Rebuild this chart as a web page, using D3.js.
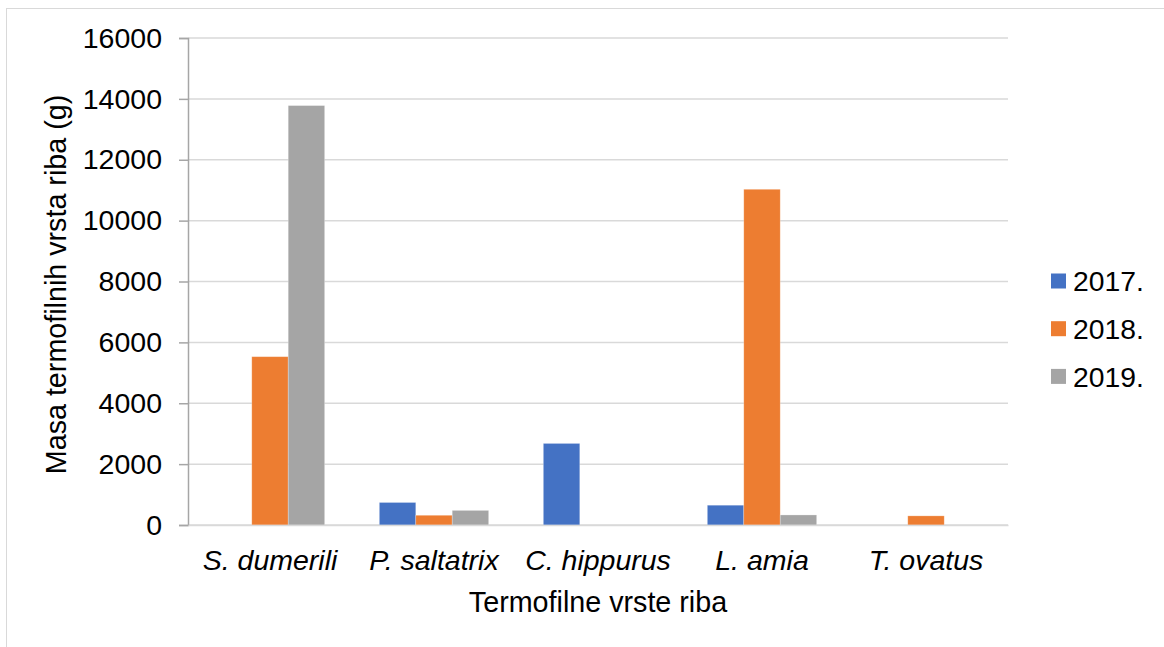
<!DOCTYPE html>
<html>
<head>
<meta charset="utf-8">
<script src="https://cdn.jsdelivr.net/npm/d3@7"></script>
<style>
  html, body { margin: 0; padding: 0; background: #fff; }
  svg { display: block; font-family: "Liberation Sans", Arial, sans-serif; }
</style>
</head>
<body>
<svg id="chart" width="1164" height="647"></svg>
<script>
const categories = ["S. dumerili", "P. saltatrix", "C. hippurus", "L. amia", "T. ovatus"];
const seriesNames = ["2017.", "2018.", "2019."];
const values2017 = [0, 740, 2680, 650, 0];
const values2018 = [5530, 320, 0, 11030, 300];
const values2019 = [13780, 480, 0, 330, 0];
const yTicks = [0, 2000, 4000, 6000, 8000, 10000, 12000, 14000, 16000];
const colors = ["#4472C4", "#ED7D31", "#A5A5A5"];

const seriesValues = [values2017, values2018, values2019];

const svg = d3.select("#chart");
const margin = { left: 188, right: 1008, top: 38, bottom: 525 };
const FONT = "Liberation Sans, Arial, sans-serif";

// outer frame
svg.append("rect")
  .attr("x", 6.5).attr("y", 8.5)
  .attr("width", 1300).attr("height", 800)
  .attr("fill", "none").attr("stroke", "#d9d9d9").attr("stroke-width", 1);

const y = d3.scaleLinear().domain([0, 16000]).range([margin.bottom, margin.top]);
const x0 = d3.scaleBand().domain(categories).range([margin.left, margin.right])
  .paddingInner(1/3).paddingOuter(1/6);
const x1 = d3.scaleBand().domain(seriesNames).range([0, x0.bandwidth()]);

// gridlines
svg.append("g").selectAll("line").data(yTicks).join("line")
  .attr("x1", margin.left).attr("x2", margin.right)
  .attr("y1", d => y(d)).attr("y2", d => y(d))
  .attr("stroke", "#d9d9d9").attr("stroke-width", 1.5);

// y axis
const yAxis = d3.axisLeft(y).tickValues(yTicks).tickSize(9).tickPadding(17).tickFormat(d3.format("d"));
const gy = svg.append("g").attr("transform", `translate(${margin.left},0)`).call(yAxis);
gy.select(".domain").attr("stroke", "#a6a6a6").attr("stroke-width", 1.5);
gy.selectAll(".tick line").attr("stroke", "#a6a6a6").attr("stroke-width", 1.5);
gy.selectAll(".tick text").attr("font-size", 28.5).attr("fill", "#000").attr("font-family", FONT);

// bars
const rows = categories.map((c, i) => ({ cat: c, vals: seriesNames.map((s, j) => ({ s, v: seriesValues[j][i], j })) }));
const groups = svg.append("g").selectAll("g").data(rows).join("g")
  .attr("transform", d => `translate(${x0(d.cat)},0)`);
groups.selectAll("rect").data(d => d.vals.filter(e => e.v > 0)).join("rect")
  .attr("x", d => x1(d.s))
  .attr("width", x1.bandwidth())
  .attr("y", d => y(d.v))
  .attr("height", d => y(0) - y(d.v))
  .attr("fill", d => colors[d.j])
  .attr("stroke", "#ffffff").attr("stroke-opacity", 0.35).attr("stroke-width", 0.75);

// x axis
const xAxis = d3.axisBottom(x0).tickSize(0).tickPadding(25);
const gx = svg.append("g").attr("transform", `translate(0,${margin.bottom})`).call(xAxis);
gx.select(".domain").attr("stroke", "#d9d9d9").attr("stroke-width", 1.5);
gx.selectAll(".tick text").attr("font-size", 28.5).attr("font-style", "italic").attr("fill", "#000")
  .attr("font-family", FONT);

// axis titles
svg.append("text")
  .attr("x", (margin.left + margin.right) / 2).attr("y", 612)
  .attr("text-anchor", "middle").attr("font-size", 28.7).attr("fill", "#000")
  .text("Termofilne vrste riba");
svg.append("text")
  .attr("transform", `translate(66,${(margin.top + margin.bottom) / 2 + 3}) rotate(-90)`)
  .attr("text-anchor", "middle").attr("font-size", 28.7).attr("fill", "#000")
  .text("Masa termofilnih vrsta riba (g)");

// legend
const legend = svg.append("g").selectAll("g").data(seriesNames).join("g")
  .attr("transform", (d, i) => `translate(1051,${281 + i * 47.7})`);
legend.append("rect").attr("x", 0).attr("y", -7.5).attr("width", 15).attr("height", 15)
  .attr("fill", (d, i) => colors[i]);
legend.append("text").attr("x", 22).attr("y", 0).attr("dy", "0.36em")
  .attr("font-size", 28.3).attr("fill", "#000").text(d => d);
</script>
</body>
</html>
